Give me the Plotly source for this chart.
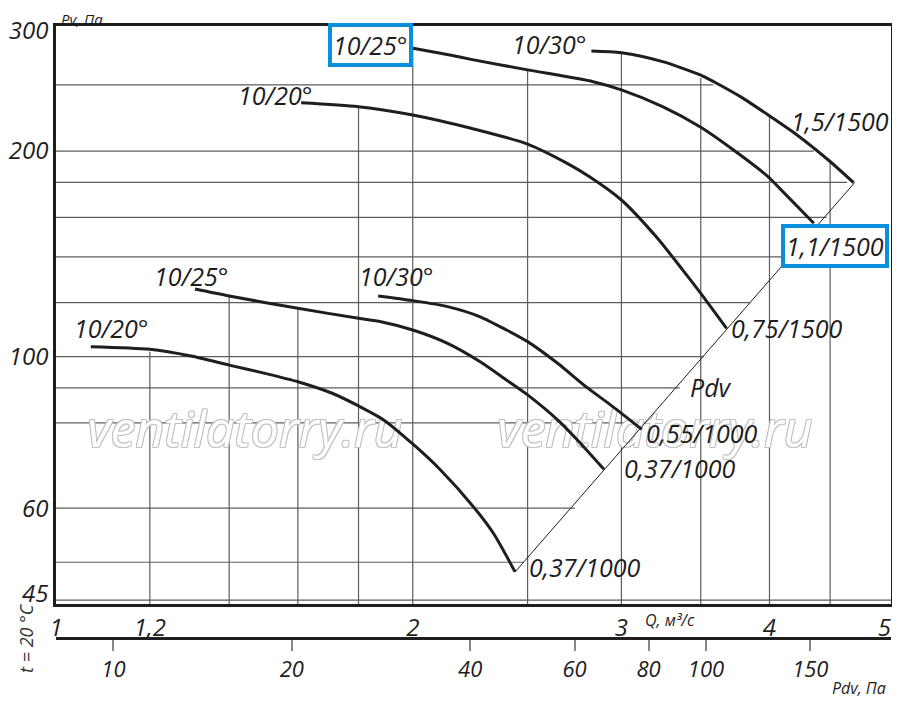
import math
import plotly.graph_objects as go

# Q, м³/с and Pv, Па (log-log)
q_1000_20 = [1.07, 1.20, 1.30, 1.40, 1.51, 1.60, 1.71, 1.80, 1.89, 2.00, 2.11, 2.25, 2.34, 2.44]
pv_1000_20 = [103.4, 102.5, 100.2, 97.2, 94.3, 91.9, 88.4, 84.7, 80.8, 74.5, 68.3, 60.3, 55.1, 48.4]
q_1000_25 = [1.31, 1.40, 1.60, 1.80, 1.88, 2.00, 2.14, 2.28, 2.40, 2.50, 2.65, 2.77, 2.90]
pv_1000_25 = [125.6, 122.7, 117.7, 113.8, 112.5, 109.4, 104.6, 98.3, 92.4, 87.9, 80.8, 74.7, 68.4]
q_1000_30 = [1.87, 2.00, 2.14, 2.28, 2.40, 2.50, 2.65, 2.80, 2.95, 3.12]
pv_1000_30 = [122.7, 120.8, 118.4, 114.4, 109.4, 105.2, 97.8, 90.4, 84.5, 78.3]
q_1500_20 = [1.61, 1.80, 2.00, 2.24, 2.50, 2.70, 2.82, 3.00, 3.21, 3.38, 3.50, 3.68]
pv_1500_20 = [235.4, 232.3, 225.9, 216.0, 204.8, 191.9, 183.4, 169.6, 149.8, 133.9, 123.8, 110.0]
q_1500_25 = [1.98, 2.15, 2.24, 2.50, 2.84, 3.00, 3.25, 3.50, 3.73, 3.99, 4.08, 4.36]
pv_1500_25 = [283.8, 276.5, 272.5, 263.0, 252.7, 245.8, 232.3, 216.7, 200.7, 183.4, 176.4, 156.8]
q_1500_30 = [2.83, 3.00, 3.25, 3.50, 3.59, 3.78, 3.99, 4.22, 4.50, 4.71]
pv_1500_30 = [280.3, 278.6, 270.4, 258.4, 252.7, 240.3, 225.9, 211.2, 193.1, 179.8]

# dynamic pressure line (Pv = Pdv)
q_pdv = [2.44, 4.72]
pv_pdv = [48.4, 179.8]

# grid lines, clipped like in the drawing
vgrid_q = [1.2, 1.4, 1.6, 1.8, 2.0, 2.5, 3.0, 3.5, 4.0, 4.5]
vgrid_top = [101.7, 122.7, 117.7, 232.3, 284.0, 264.0, 278.6, 256.0, 225.9, 193.1]
hgrid_pv = [44, 50, 60, 80, 90, 100, 120, 140, 160, 180, 200, 250]
hgrid_end = [5.2, 2.48, 2.74, 3.17, 3.36, 3.52, 3.85, 4.16, 4.47, 4.65, 4.36, 3.585]

# axis ticks
q_ticks = [1, 1.2, 2, 3, 4, 5]
q_ticktext = ['1', '1,2', '2', '3', '4', '5']
pv_ticks = [45, 60, 100, 200, 300]
pdv_ticks = [10, 20, 40, 60, 80, 100, 150]

# curve labels
label_text = ['10/20°', '10/25°', '10/30°', '10/20°', '10/25°', '10/30°',
              '1,5/1500', '1,1/1500', '0,75/1500', 'Pdv',
              '0,55/1000', '0,37/1000', '0,37/1000']
label_q = [1.113, 1.302, 1.936, 1.533, 1.841, 2.607, 4.587, 4.544, 4.140, 3.571, 3.509, 3.363, 2.796]
label_pv = [110.2, 131.3, 131.3, 241.6, 286.0, 287.0, 221.3, 145.2, 110.2, 90.3, 77.3, 68.7, 49.2]
boxed = [4, 7]

watermark_q = [1.444, 3.203]
watermark_pv = [77.0, 77.0]

FONT = 'Open Sans'
INK = '#1e1e1e'
GRID = '#5c5c5c'
BLUE = '#0a8fdc'

curves = [
    (q_1000_20, pv_1000_20), (q_1000_25, pv_1000_25), (q_1000_30, pv_1000_30),
    (q_1500_20, pv_1500_20), (q_1500_25, pv_1500_25), (q_1500_30, pv_1500_30),
]

fig = go.Figure()

for q, top in zip(vgrid_q, vgrid_top):
    fig.add_trace(go.Scatter(x=[q, q], y=[40, top], mode='lines',
                             line=dict(color=GRID, width=1.2),
                             hoverinfo='skip', showlegend=False))
for pv, end in zip(hgrid_pv, hgrid_end):
    fig.add_trace(go.Scatter(x=[0.9, end], y=[pv, pv], mode='lines',
                             line=dict(color=GRID, width=1.2),
                             hoverinfo='skip', showlegend=False))

# watermark under the curves, outlined letters
outline = '1px 1px 0 #c2c2c2, -1px -1px 0 #c2c2c2, 1px -1px 0 #c2c2c2, -1px 1px 0 #c2c2c2'
fig.add_trace(go.Scatter(x=watermark_q, y=watermark_pv, mode='text',
                         text=['ventilatorry.ru'] * 2, textposition='middle center',
                         textfont=dict(family=FONT, size=50, style='italic',
                                       color='white', shadow=outline),
                         hoverinfo='skip', showlegend=False))

fig.add_trace(go.Scatter(x=q_pdv, y=pv_pdv, mode='lines',
                         line=dict(color=INK, width=1),
                         hoverinfo='skip', showlegend=False))

for q, pv in curves:
    fig.add_trace(go.Scatter(x=q, y=pv, mode='lines',
                             line=dict(color=INK, width=3, shape='spline', smoothing=0.7),
                             showlegend=False))

# dummy trace so the Pdv axis gets drawn
fig.add_trace(go.Scatter(x=pdv_ticks, y=[50] * len(pdv_ticks), xaxis='x2', mode='markers',
                         marker=dict(opacity=0), hoverinfo='skip', showlegend=False))

annotations = []
for i, (t, q, pv) in enumerate(zip(label_text, label_q, label_pv)):
    a = dict(x=math.log10(q), y=math.log10(pv), xref='x', yref='y', text=t,
             xanchor='center', yanchor='middle', showarrow=False,
             font=dict(family=FONT, size=25, color=INK, style='italic'))
    if i in boxed:
        a.update(bordercolor=BLUE, borderwidth=4, borderpad=1, bgcolor='white')
    annotations.append(a)

small = dict(family=FONT, size=16, color=INK, style='italic')
annotations += [
    dict(x=0.004, y=1.0114, xref='paper', yref='paper', text='Pv, Па', showarrow=False,
         xanchor='left', yanchor='middle', font=dict(small, size=15)),
    dict(x=math.log10(3.30), y=0.029, xref='x', yref='paper', text='Q, м³/с', showarrow=False,
         xanchor='center', yanchor='middle', font=small),
    dict(x=0.996, y=-0.082, xref='paper', yref='paper', text='Pdv, Па', showarrow=False,
         xanchor='right', yanchor='middle', font=small),
    dict(x=-0.036, y=0.0, xref='paper', yref='paper', text='t = 20 °C', showarrow=False,
         xanchor='center', yanchor='middle', textangle=-90,
         font=dict(family=FONT, size=18, color='#333', style='italic')),
]

tick_font = dict(family=FONT, size=24, color=INK, style='italic')

# page body has an 8px margin, so the margins are shifted by that much
fig.update_layout(
    width=900, height=703, autosize=False,
    margin=dict(l=48, r=17, t=18, b=73),
    plot_bgcolor='white', paper_bgcolor='white',
    xaxis=dict(type='log', range=[0, 0.7046], tickvals=q_ticks, ticktext=q_ticktext,
               showgrid=False, zeroline=False, ticks='', tickfont=tick_font, automargin=False,
               showline=True, mirror=True, linewidth=2.5, linecolor=INK, anchor='y'),
    xaxis2=dict(type='log', range=[math.log10(8.0), math.log10(8.0) + 2 * 0.7046],
                overlaying='x', anchor='free', position=0, side='bottom', automargin=False,
                tickvals=pdv_ticks, ticktext=[str(v) for v in pdv_ticks],
                showgrid=False, zeroline=False, ticks='outside', ticklen=11,
                tickcolor='#888', tickwidth=1.5, tickfont=dict(tick_font, size=22),
                showline=True, linewidth=3, linecolor=INK),
    yaxis=dict(type='log', range=[1.6379, 2.4842], domain=[0.0556, 1], automargin=False,
               tickvals=pv_ticks, ticktext=[str(v) for v in pv_ticks],
               showgrid=False, zeroline=False, ticks='', tickfont=tick_font,
               showline=True, mirror=True, linewidth=2.5, linecolor=INK),
    annotations=annotations,
    hovermode=False,
)

fig.write_html("out.html")
